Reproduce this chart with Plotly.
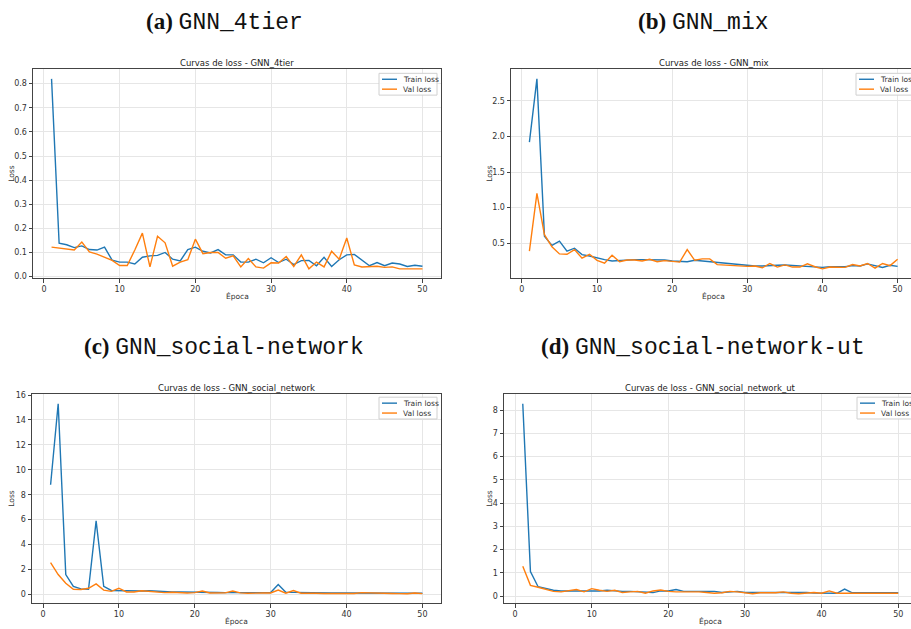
import plotly.graph_objects as go

epochs = list(range(1, 51))

train_4tier = [0.82, 0.138, 0.132, 0.12, 0.127, 0.112, 0.11, 0.122, 0.068, 0.06,
               0.06, 0.052, 0.08, 0.086, 0.088, 0.1, 0.072, 0.065, 0.112, 0.122,
               0.105, 0.098, 0.112, 0.09, 0.09, 0.06, 0.06, 0.072, 0.057, 0.078,
               0.058, 0.072, 0.05, 0.066, 0.067, 0.045, 0.08, 0.042, 0.07, 0.09,
               0.092, 0.068, 0.045, 0.058, 0.045, 0.056, 0.052, 0.042, 0.047, 0.043]
val_4tier = [0.122, 0.118, 0.112, 0.11, 0.143, 0.102, 0.093, 0.08, 0.067, 0.046,
             0.046, 0.11, 0.18, 0.04, 0.167, 0.14, 0.043, 0.06, 0.07, 0.155,
             0.095, 0.1, 0.1, 0.076, 0.086, 0.04, 0.075, 0.04, 0.035, 0.057,
             0.056, 0.083, 0.042, 0.09, 0.032, 0.06, 0.04, 0.105, 0.072, 0.16,
             0.048, 0.04, 0.043, 0.043, 0.038, 0.04, 0.032, 0.032, 0.035, 0.032]

train_mix = [1.92, 2.81, 0.6, 0.47, 0.53, 0.39, 0.43, 0.34, 0.32, 0.29,
             0.27, 0.25, 0.26, 0.265, 0.27, 0.27, 0.27, 0.27, 0.265, 0.25,
             0.24, 0.24, 0.26, 0.25, 0.23, 0.22, 0.21, 0.2, 0.19, 0.185,
             0.18, 0.18, 0.19, 0.19, 0.195, 0.19, 0.18, 0.17, 0.17, 0.16,
             0.17, 0.17, 0.17, 0.185, 0.18, 0.21, 0.19, 0.16, 0.19, 0.175]
val_mix = [0.39, 1.2, 0.62, 0.45, 0.35, 0.345, 0.41, 0.29, 0.345, 0.26,
           0.22, 0.33, 0.24, 0.265, 0.265, 0.25, 0.275, 0.24, 0.255, 0.24,
           0.235, 0.41, 0.26, 0.28, 0.28, 0.2, 0.195, 0.185, 0.175, 0.175,
           0.18, 0.155, 0.215, 0.165, 0.195, 0.165, 0.165, 0.21, 0.17, 0.14,
           0.165, 0.16, 0.16, 0.2, 0.18, 0.215, 0.15, 0.215, 0.185, 0.275]

train_social = [8.8, 15.3, 1.6, 0.65, 0.45, 0.42, 5.9, 0.65, 0.32, 0.3,
                0.32, 0.3, 0.28, 0.3, 0.25, 0.22, 0.2, 0.2, 0.18, 0.2,
                0.2, 0.18, 0.16, 0.15, 0.15, 0.15, 0.14, 0.13, 0.15, 0.15,
                0.8, 0.18, 0.17, 0.15, 0.14, 0.14, 0.13, 0.13, 0.12, 0.12,
                0.12, 0.13, 0.15, 0.12, 0.11, 0.11, 0.1, 0.1, 0.1, 0.1]
val_social = [2.55, 1.6, 0.9, 0.42, 0.4, 0.5, 0.85, 0.35, 0.25, 0.5,
              0.2, 0.2, 0.3, 0.25, 0.15, 0.15, 0.18, 0.15, 0.12, 0.15,
              0.28, 0.12, 0.15, 0.13, 0.28, 0.13, 0.1, 0.08, 0.12, 0.12,
              0.35, 0.1, 0.32, 0.1, 0.12, 0.1, 0.08, 0.08, 0.08, 0.06,
              0.08, 0.15, 0.12, 0.08, 0.07, 0.08, 0.07, 0.06, 0.12, 0.07]

train_social_ut = [8.28, 1.05, 0.4, 0.32, 0.25, 0.22, 0.22, 0.2, 0.2, 0.22,
                   0.22, 0.25, 0.22, 0.2, 0.2, 0.18, 0.15, 0.15, 0.22, 0.22,
                   0.28, 0.2, 0.2, 0.2, 0.18, 0.2, 0.15, 0.18, 0.2, 0.15,
                   0.15, 0.15, 0.17, 0.16, 0.17, 0.15, 0.15, 0.15, 0.13, 0.13,
                   0.15, 0.12, 0.3, 0.14, 0.14, 0.14, 0.14, 0.14, 0.14, 0.14]
val_social_ut = [1.28, 0.46, 0.38, 0.3, 0.2, 0.18, 0.22, 0.28, 0.18, 0.32,
                 0.25, 0.2, 0.25, 0.15, 0.18, 0.2, 0.12, 0.22, 0.26, 0.2,
                 0.18, 0.18, 0.2, 0.18, 0.15, 0.12, 0.14, 0.2, 0.18, 0.15,
                 0.1, 0.14, 0.14, 0.14, 0.18, 0.12, 0.1, 0.12, 0.15, 0.12,
                 0.22, 0.12, 0.12, 0.13, 0.14, 0.12, 0.12, 0.12, 0.12, 0.12]

panel_names = ["GNN_4tier", "GNN_mix", "GNN_social-network", "GNN_social-network-ut"]
panel_letters = ["(a)", "(b)", "(c)", "(d)"]
plot_titles = ["Curvas de loss - GNN_4tier", "Curvas de loss - GNN_mix",
               "Curvas de loss - GNN_social_network", "Curvas de loss - GNN_social_network_ut"]
x_ticks = [0, 10, 20, 30, 40, 50]
y_ticks = [
    [0.0, 0.1, 0.2, 0.3, 0.4, 0.5, 0.6, 0.7, 0.8],
    [0.5, 1.0, 1.5, 2.0, 2.5],
    [0, 2, 4, 6, 8, 10, 12, 14, 16],
    [0, 1, 2, 3, 4, 5, 6, 7, 8],
]
y_tickformat = [".1f", ".1f", "d", "d"]
series_names = ["Train loss", "Val loss"]

W, H = 911, 629
BLUE = "#1f77b4"
ORANGE = "#ff7f0e"
SANS = "DejaVu Sans"

# Pixel layout of each axes box: left, right(full axes extent), top, bottom, visible right
boxes = [
    (33, 441, 67, 278, 441),
    (511, 916, 67, 278, 911),
    (32, 441, 395, 606, 441),
    (504, 917, 395, 606, 911),
]
caption_pos = [(224, 20), (703, 20), (224, 348), (703, 348)]
legend_pos = [(379, 71), (856, 71), (379, 398), (857, 398)]

data = [(train_4tier, val_4tier), (train_mix, val_mix),
        (train_social, val_social), (train_social_ut, val_social_ut)]

fig = go.Figure()
shapes = []
annotations = []

for i, ((tr, va), (l, r, t, b, vis_r)) in enumerate(zip(data, boxes)):
    ax = "" if i == 0 else str(i + 1)
    xa, ya = "x" + ax, "y" + ax
    fig.add_trace(go.Scatter(x=epochs, y=tr, mode="lines", name=series_names[0],
                             line=dict(color=BLUE, width=1.4), xaxis=xa, yaxis=ya,
                             showlegend=False))
    fig.add_trace(go.Scatter(x=epochs, y=va, mode="lines", name=series_names[1],
                             line=dict(color=ORANGE, width=1.4), xaxis=xa, yaxis=ya,
                             showlegend=False))
    # matplotlib-style 5% margins
    xmin, xmax = min(epochs), max(epochs)
    xm = 0.05 * (xmax - xmin)
    x0, x1 = xmin - xm, xmax + xm
    allv = tr + va
    ymin, ymax = min(allv), max(allv)
    ymg = 0.05 * (ymax - ymin)
    y0, y1 = ymin - ymg, ymax + ymg
    # visible part of x range (b/d are cropped at right image edge)
    x1_vis = x0 + (x1 - x0) * (vis_r - l) / (r - l)
    dom_x = [l / W, vis_r / W]
    dom_y = [1 - b / H, 1 - t / H]
    cropped = vis_r < r
    fig.update_layout(**{
        "xaxis" + ax: dict(domain=dom_x, range=[x0, x1_vis], anchor=ya,
                           tickvals=x_ticks, ticks="outside", ticklen=3.5, tickcolor="#444",
                           showline=True, linecolor="#444", linewidth=1, mirror=True,
                           showgrid=True, gridcolor="#e6e6e6", gridwidth=1, zeroline=False,
                           tickfont=dict(family=SANS, size=8, color="#333")),
        "yaxis" + ax: dict(domain=dom_y, range=[y0, y1], anchor=xa,
                           tickvals=y_ticks[i], tickformat=y_tickformat[i],
                           ticks="outside", ticklen=3.5, tickcolor="#444",
                           showline=True, linecolor="#444", linewidth=1,
                           mirror=(not cropped),
                           showgrid=True, gridcolor="#e6e6e6", gridwidth=1, zeroline=False,
                           tickfont=dict(family=SANS, size=8, color="#333")),
    })
    cx = (l + r) / 2
    # axes title
    annotations.append(dict(text=plot_titles[i], x=cx / W, y=1 - (t - 6.5) / H,
                            xref="paper", yref="paper", showarrow=False,
                            xanchor="center", yanchor="middle",
                            font=dict(family=SANS, size=8.5, color="#222")))
    # x label
    annotations.append(dict(text="Época", x=cx / W, y=1 - (b + 18) / H,
                            xref="paper", yref="paper", showarrow=False,
                            xanchor="center", yanchor="middle",
                            font=dict(family=SANS, size=7.5, color="#333")))
    # y label
    ylx = 12 if i % 2 == 0 else 490
    annotations.append(dict(text="Loss", x=ylx / W, y=1 - ((t + b) / 2) / H,
                            xref="paper", yref="paper", showarrow=False, textangle=-90,
                            xanchor="center", yanchor="middle",
                            font=dict(family=SANS, size=7.5, color="#333")))
    # panel caption
    px, py = caption_pos[i]
    cap = ("<b>" + panel_letters[i] + "</b> "
           "<span style='font-family:Liberation Mono'>" + panel_names[i] + "</span>")
    annotations.append(dict(text=cap, x=px / W, y=1 - py / H, xref="paper", yref="paper",
                            showarrow=False, xanchor="center", yanchor="middle",
                            font=dict(family="Liberation Serif", size=23, color="#111")))
    # legend box (drawn manually so it can be cropped like the reference)
    lx, ly = legend_pos[i]
    shapes.append(dict(type="rect", xref="paper", yref="paper",
                       x0=lx / W, x1=(lx + 58) / W, y0=1 - (ly + 22) / H, y1=1 - ly / H,
                       line=dict(color="#d0d0d0", width=1), fillcolor="rgba(255,255,255,0.85)"))
    for j, (col, nm) in enumerate(zip([BLUE, ORANGE], series_names)):
        yy = ly + 6 + j * 10
        shapes.append(dict(type="line", xref="paper", yref="paper",
                           x0=(lx + 3) / W, x1=(lx + 18) / W, y0=1 - yy / H, y1=1 - yy / H,
                           line=dict(color=col, width=1.4)))
        annotations.append(dict(text=nm, x=(lx + 22) / W, y=1 - yy / H,
                                xref="paper", yref="paper", showarrow=False,
                                xanchor="left", yanchor="middle",
                                font=dict(family=SANS, size=7.5, color="#333")))

fig.update_layout(width=W, height=H, margin=dict(l=0, r=0, t=0, b=0),
                  paper_bgcolor="white", plot_bgcolor="white",
                  shapes=shapes, annotations=annotations, showlegend=False)

fig.write_html("out.html", config={"displayModeBar": False},
               post_script="document.body.style.margin='0';document.body.style.overflow='hidden';")
